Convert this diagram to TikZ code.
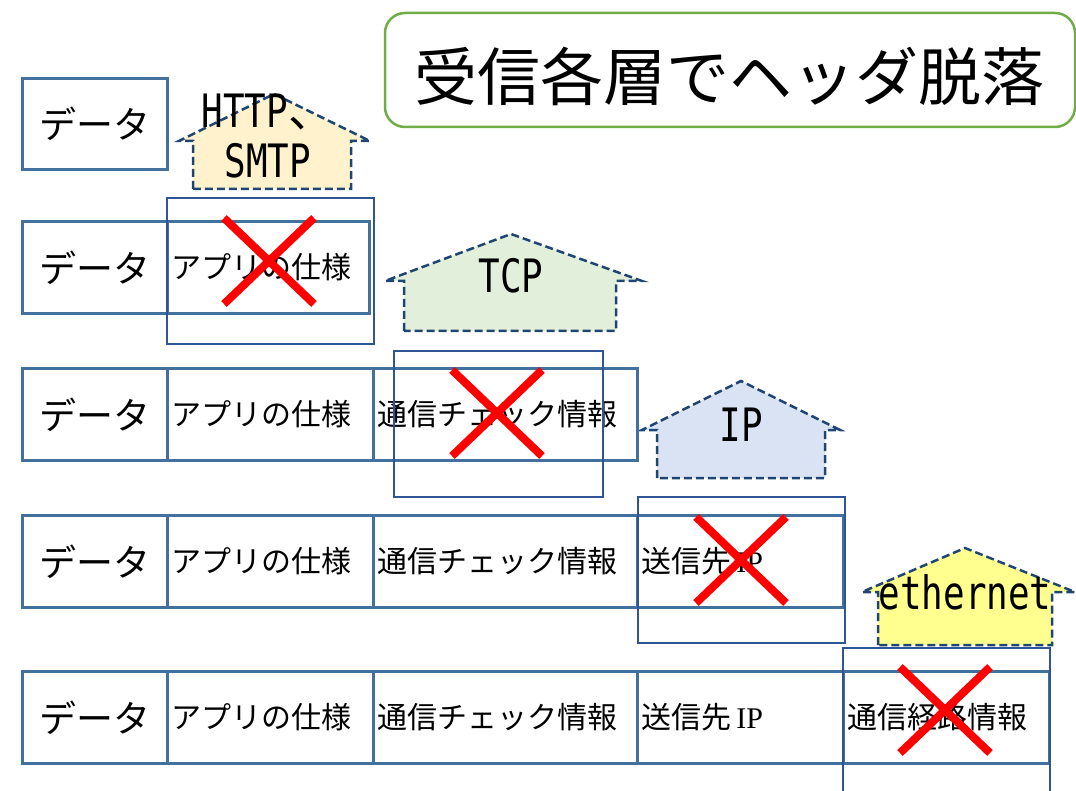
\documentclass[tikz,border=0pt]{standalone}
\usepackage{fontspec}
\newfontfamily\jp{Noto Sans CJK JP}
\newfontfamily\lab[FakeStretch=0.78]{DejaVu Sans Mono}
\newfontfamily\ser{Liberation Serif}
\usetikzlibrary{shapes.misc}
\definecolor{cellblue}{HTML}{41719C}
\definecolor{outerblue}{HTML}{2F5597}
\definecolor{dashblue}{HTML}{1F4673}
\definecolor{titlegreen}{HTML}{70AD47}
\definecolor{httpfill}{HTML}{FFF2CC}
\definecolor{tcpfill}{HTML}{E2EFDA}
\definecolor{ipfill}{HTML}{DAE3F3}
\definecolor{ethfill}{HTML}{FFFF8F}
\tikzset{
  cell/.style={draw=cellblue, line width=2.8pt, rectangle, anchor=north west,
    inner xsep=4pt, inner ysep=0pt, minimum height=92pt,
    font=\jp\fontsize{30}{36}\selectfont, align=left},
  colA/.style={cell, minimum width=145pt, text width=137pt, align=center,
    font=\jp\fontsize{37}{40}\selectfont},
  colB/.style={cell, text width=198pt},
  colC/.style={cell, text width=256pt},
  colD/.style={cell, text width=198pt},
  colE/.style={cell, text width=198pt},
  outer/.style={draw=outerblue, line width=2.2pt, rectangle, anchor=north west,
    inner sep=0pt, minimum height=146pt},
  house/.style={draw=dashblue, line width=2.5pt, dash pattern=on 8pt off 4pt},
  lbl/.style={font=\lab\fontsize{46}{50}\selectfont, align=center, inner sep=0pt},
  xmark/.style={cross out, draw=red, line width=8pt, inner sep=0pt,
    minimum width=82pt, minimum height=78pt},
}
\begin{document}
\begin{tikzpicture}[x=1pt, y=-1pt]
\useasboundingbox (0,0) rectangle (1076,791);
% title
\node[draw=titlegreen, line width=2.5pt, rounded corners=20pt,
  minimum width=690pt, minimum height=114pt, inner sep=0pt] (title) at (730,70) {};
\node[font=\jp\fontsize{63}{66}\selectfont, inner sep=0pt] (titletext) at (729,76) {受信各層でヘッダ脱落};
% houses
\draw[house, fill=httpfill] (193,189) -- (193,141) -- (179,141) -- (274,94) -- (370,141) -- (351,141) -- (351,189) -- cycle;
\draw[house, fill=tcpfill] (404,331) -- (404,281) -- (385,281) -- (511,234) -- (642,281) -- (616,281) -- (616,331) -- cycle;
\draw[house, fill=ipfill] (657,478) -- (657,430) -- (642,430) -- (741,381) -- (840,430) -- (825,430) -- (825,478) -- cycle;
\draw[house, fill=ethfill] (878,645) -- (878,592) -- (862,592) -- (965,548) -- (1075,592) -- (1052,592) -- (1052,645) -- cycle;
% row 1
\node[colA, minimum height=91pt] (r1a) at (21,77) {データ};
% row 2
\node[colA] (r2a) at (21,220) {データ};
\node[cell, text width=194pt] (r2b) at (166,220) {アプリの仕様};
% row 3
\node[colA] (r3a) at (21,367) {データ};
\node[colB] (r3b) at (166,367) {アプリの仕様};
\node[colC] (r3c) at (372,367) {通信チェック情報};
% row 4
\node[colA] (r4a) at (21,514) {データ};
\node[colB] (r4b) at (166,514) {アプリの仕様};
\node[colC] (r4c) at (372,514) {通信チェック情報};
\node[colD] (r4d) at (636,514) {送信先\,{\ser IP}};
% row 5
\node[colA] (r5a) at (21,670) {データ};
\node[colB] (r5b) at (166,670) {アプリの仕様};
\node[colC] (r5c) at (372,670) {通信チェック情報};
\node[colD] (r5d) at (636,670) {送信先\,{\ser IP}};
\node[colE] (r5e) at (842,670) {通信経路情報};
% outer boxes
\node[outer, minimum width=207pt] (o2) at (166,197) {};
\node[outer, minimum width=209pt] (o3) at (393,350) {};
\node[outer, minimum width=207pt] (o4) at (637,496) {};
\node[outer, minimum width=207pt, minimum height=170pt] (o5) at (842,647) {};
% labels
\node[lbl] (lhttp) at (268,136) {HTTP{\jp 、}\\SMTP};
\node[lbl] (ltcp) at (511,276) {TCP};
\node[lbl] (lip) at (741,425) {IP};
\node[lbl] (leth) at (965,592) {ethernet};
% crosses
\node[xmark] (x2) at (269,261) {};
\node[xmark] (x3) at (497,413) {};
\node[xmark] (x4) at (741,560) {};
\node[xmark] (x5) at (945,710) {};
\end{tikzpicture}
\end{document}
